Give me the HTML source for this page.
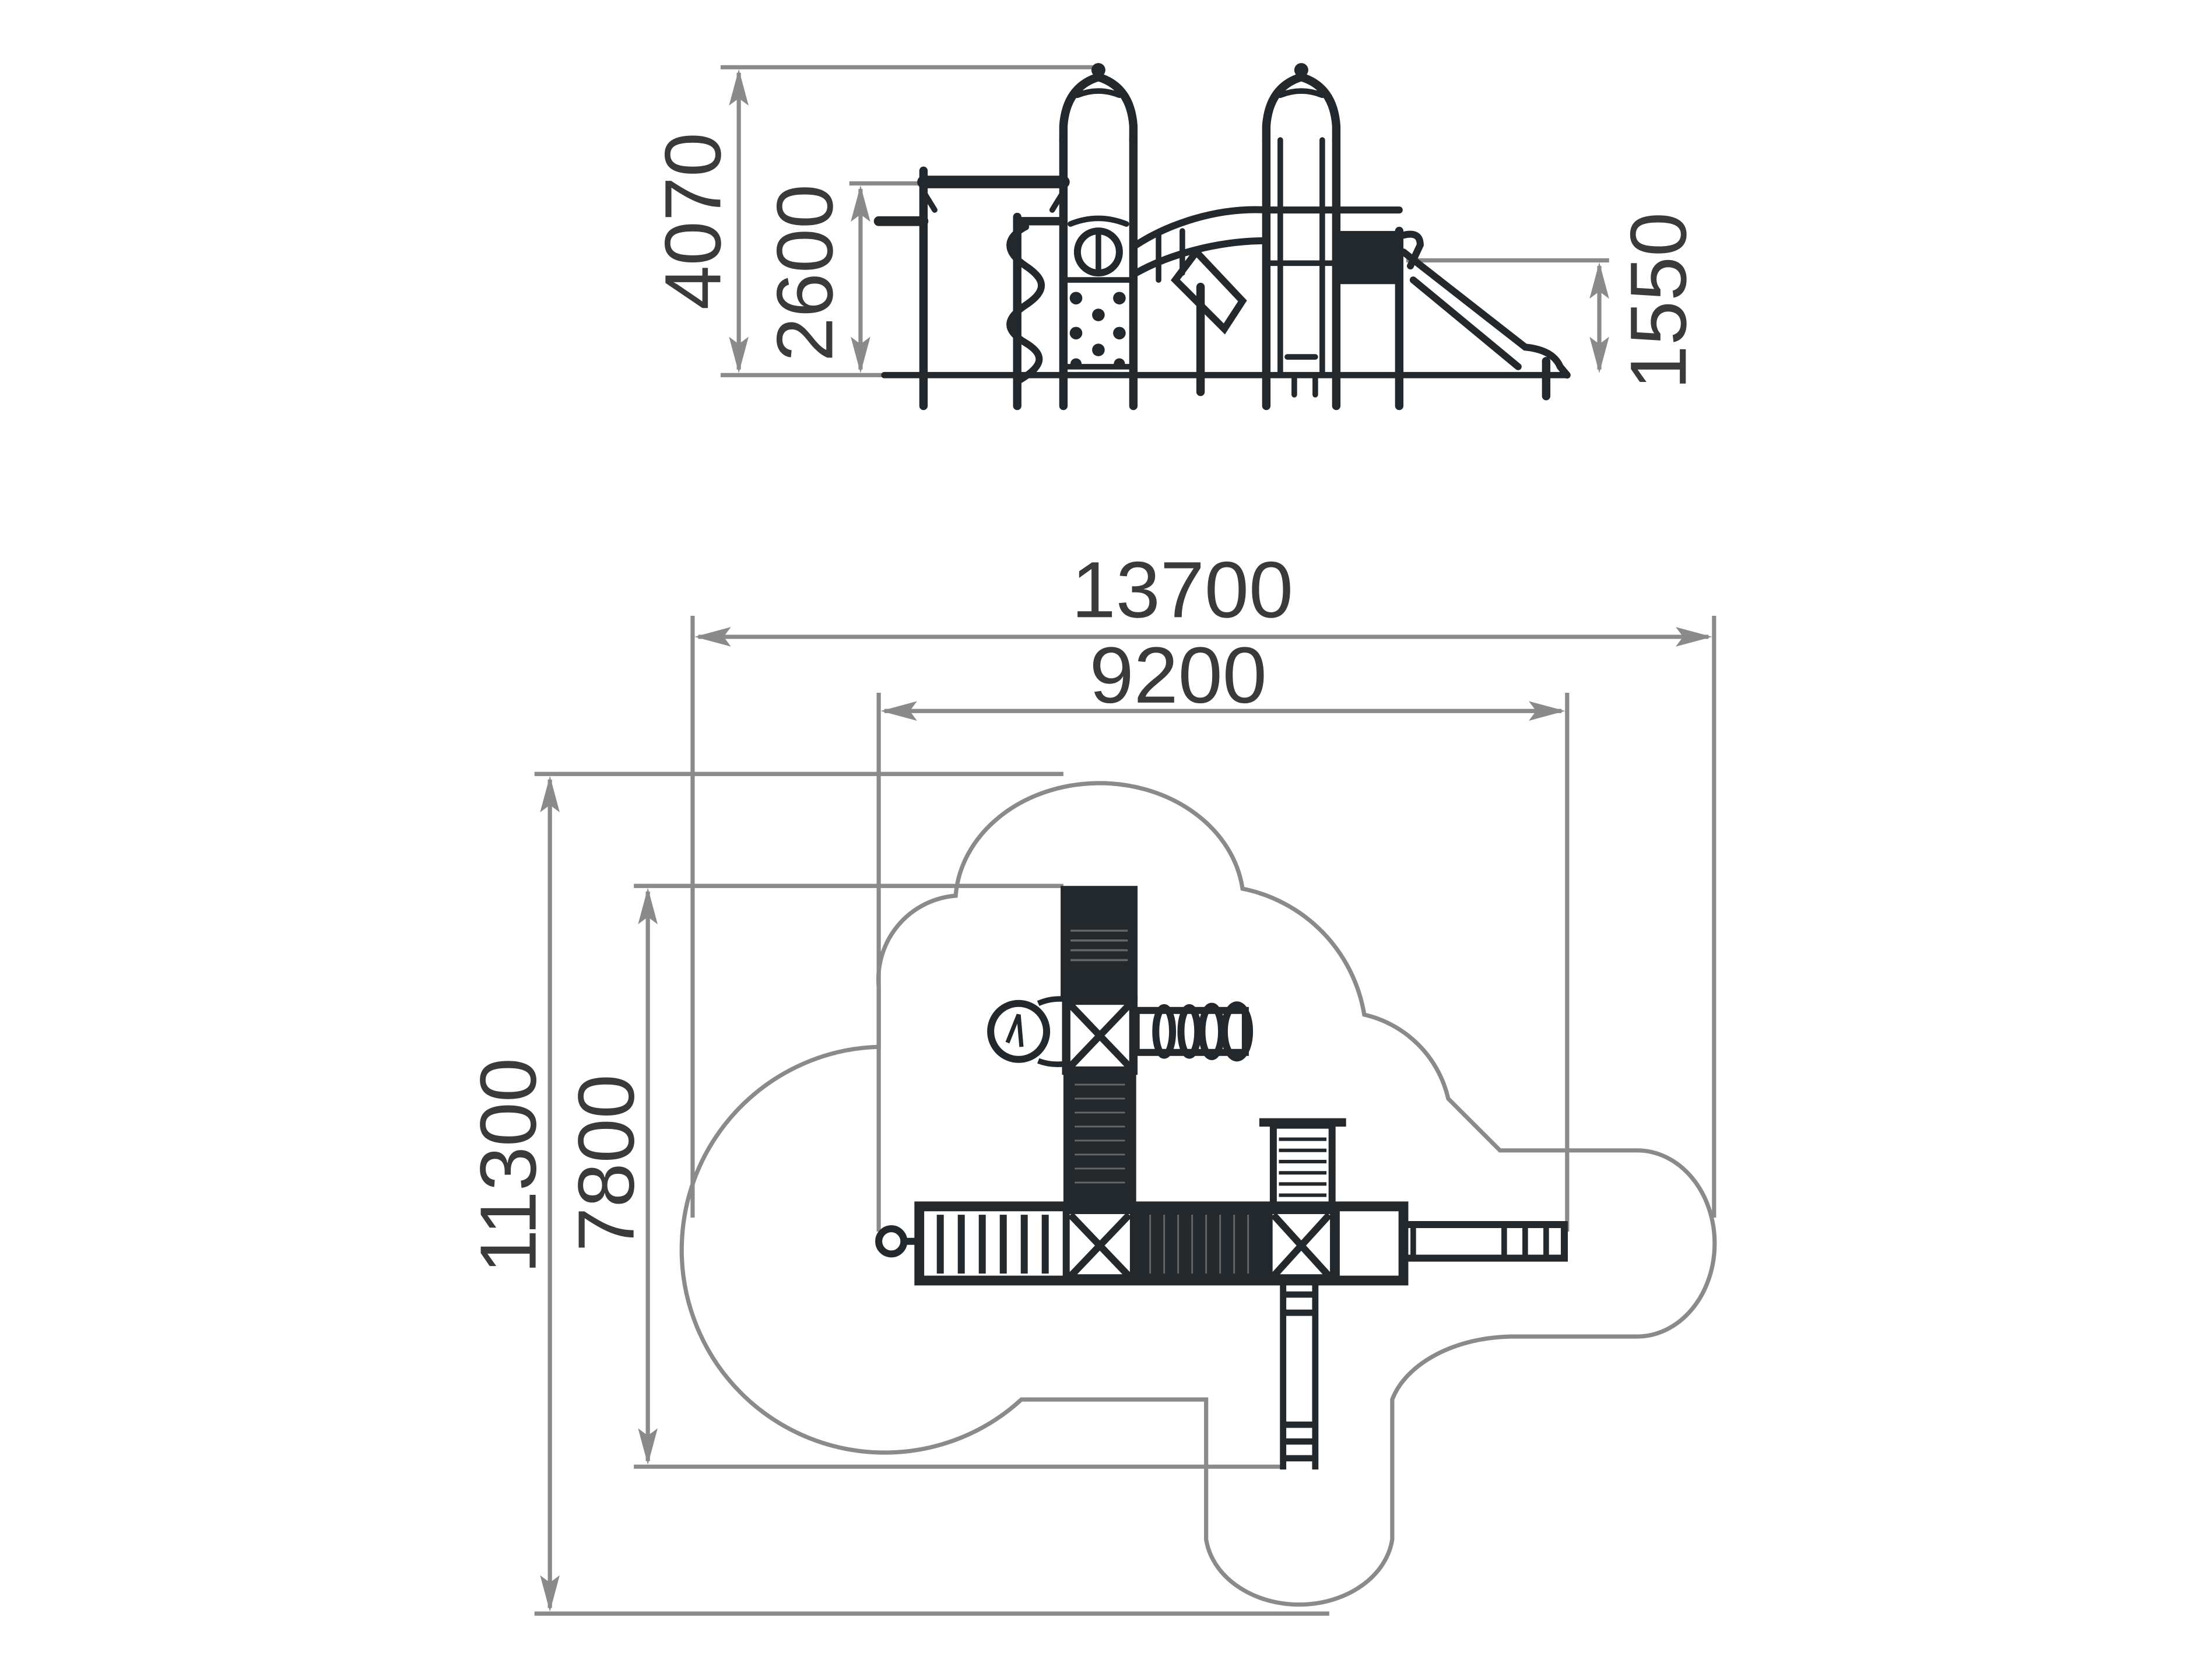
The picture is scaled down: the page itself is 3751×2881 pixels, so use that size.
<!DOCTYPE html>
<html><head><meta charset="utf-8"><style>
html,body{margin:0;padding:0;background:#fff;}
svg{display:block;}
text{font-family:"Liberation Sans",sans-serif;fill:#3a3a3a;font-size:57px;}
</style></head><body>
<svg width="3751" height="2881" viewBox="0 0 1563 1200.4" xmlns="http://www.w3.org/2000/svg">
<defs>
<marker id="arB" viewBox="0 0 10 10" refX="9" refY="5" markerWidth="26" markerHeight="14" markerUnits="userSpaceOnUse" orient="auto-start-reverse" preserveAspectRatio="none"><path d="M0,0 L10,5 L0,10 L2,5 Z" fill="#8a8a8a"/></marker>
</defs>
<rect width="1563" height="1201" fill="#fff"/>

<!-- ===== ELEVATION dims ===== -->
<g stroke="#8a8a8a" stroke-width="3" fill="none">
<line x1="515" y1="48" x2="785" y2="48"/>
<line x1="515" y1="268" x2="632" y2="268"/>
<line x1="607" y1="131" x2="660" y2="131"/>
<line x1="1005" y1="186" x2="1150" y2="186"/>
<line x1="528" y1="52" x2="528" y2="264" marker-start="url(#arB)" marker-end="url(#arB)"/>
<line x1="615" y1="135" x2="615" y2="264" marker-start="url(#arB)" marker-end="url(#arB)"/>
<line x1="1143" y1="190" x2="1143" y2="264" marker-start="url(#arB)" marker-end="url(#arB)"/>
</g>
<text transform="translate(495,158) rotate(-90)" text-anchor="middle" dominant-baseline="central">4070</text>
<text transform="translate(575,195) rotate(-90)" text-anchor="middle" dominant-baseline="central">2600</text>
<text transform="translate(1185,215) rotate(-90)" text-anchor="middle" dominant-baseline="central">1550</text>

<!-- ===== ELEVATION drawing ===== -->
<g stroke="#23282d" stroke-width="6" fill="none" stroke-linecap="round">
<line x1="632" y1="268" x2="1120" y2="268" stroke-width="4.5"/>
<line x1="660" y1="122" x2="660" y2="290"/>
<line x1="727" y1="155" x2="727" y2="290"/>
<line x1="760" y1="100" x2="760" y2="290"/>
<line x1="810" y1="100" x2="810" y2="290"/>
<line x1="858" y1="205" x2="858" y2="280"/>
<line x1="905" y1="100" x2="905" y2="290"/>
<line x1="955" y1="100" x2="955" y2="290"/>
<line x1="1000" y1="165" x2="1000" y2="290"/>
<line x1="1105" y1="258" x2="1105" y2="283"/>
<line x1="915" y1="100" x2="915" y2="268" stroke-width="4"/>
<line x1="945" y1="100" x2="945" y2="268" stroke-width="4"/>
<path d="M760,100 L760,90 Q762,62 785,55 Q808,62 810,90 L810,100"/>
<path d="M770,68 Q785,62 800,68" stroke-width="4"/>
<path d="M905,100 L905,90 Q907,62 930,55 Q953,62 955,90 L955,100"/>
<path d="M915,68 Q930,62 945,68" stroke-width="4"/>
<line x1="660" y1="130" x2="760" y2="130" stroke-width="9"/>
<path d="M660,137 L668,150 M760,137 L752,150" stroke-width="4"/>
<line x1="628" y1="158" x2="660" y2="158" stroke-width="7"/>
<line x1="727" y1="158" x2="760" y2="158" stroke-width="6"/>
<path d="M733,162 C718,170 718,180 733,190 C748,200 748,208 733,218 C718,228 718,236 733,245 C748,254 745,262 728,272" stroke-width="5"/>
<circle cx="785" cy="180" r="15" stroke-width="5"/>
<line x1="785" y1="166" x2="785" y2="194" stroke-width="4"/>
<path d="M765,160 Q785,152 805,160" stroke-width="4"/>
<line x1="760" y1="200" x2="810" y2="200" stroke-width="4"/>
<line x1="760" y1="262" x2="810" y2="262" stroke-width="4"/>
<path d="M812,175 C835,160 870,148 905,150 M812,195 C835,182 870,172 905,172" stroke-width="5"/>
<line x1="905" y1="150" x2="1000" y2="150" stroke-width="5"/>
<line x1="905" y1="188" x2="1000" y2="188" stroke-width="4"/>
<path d="M840,200 L875,235 L888,215 L855,180 Z" stroke-width="5"/>
<path d="M828,168 L828,200 M845,165 L845,195" stroke-width="4"/>
<path d="M1003,180 L1090,248 Q1110,250 1115,262 L1120,268 M1010,200 L1085,262" stroke-width="5"/>
<path d="M1003,168 Q1015,165 1015,175 L1008,190" stroke-width="5"/>
<line x1="920" y1="255" x2="940" y2="255" stroke-width="4"/>
<line x1="925" y1="268" x2="925" y2="282" stroke-width="4"/>
<line x1="940" y1="268" x2="940" y2="282" stroke-width="4"/>
</g>
<rect x="955" y="165" width="45" height="38" fill="#23282d"/>
<g fill="#23282d">
<circle cx="769" cy="213" r="4.5"/><circle cx="800" cy="213" r="4.5"/>
<circle cx="785" cy="225" r="4.5"/><circle cx="769" cy="238" r="4.5"/>
<circle cx="800" cy="238" r="4.5"/><circle cx="785" cy="250" r="4.5"/>
<circle cx="769" cy="260" r="4"/><circle cx="800" cy="260" r="4"/>
<circle cx="785" cy="50" r="5"/><circle cx="930" cy="50" r="5"/>
</g>

<!-- ===== PLAN dims ===== -->
<g stroke="#8a8a8a" stroke-width="3" fill="none">
<line x1="495" y1="440" x2="495" y2="870"/>
<line x1="1225" y1="440" x2="1225" y2="870"/>
<line x1="628" y1="495" x2="628" y2="880"/>
<line x1="1120" y1="495" x2="1120" y2="880"/>
<line x1="382" y1="553" x2="760" y2="553"/>
<line x1="382" y1="1153" x2="950" y2="1153"/>
<line x1="453" y1="633" x2="760" y2="633"/>
<line x1="453" y1="1048" x2="915" y2="1048"/>
<line x1="499" y1="455" x2="1221" y2="455" marker-start="url(#arB)" marker-end="url(#arB)"/>
<line x1="632" y1="508" x2="1116" y2="508" marker-start="url(#arB)" marker-end="url(#arB)"/>
<line x1="393" y1="557" x2="393" y2="1149" marker-start="url(#arB)" marker-end="url(#arB)"/>
<line x1="463" y1="637" x2="463" y2="1044" marker-start="url(#arB)" marker-end="url(#arB)"/>
<path d="M683,640 A103 86 0 0 1 888,635 A110 110 0 0 1 975,725 A80 80 0 0 1 1035,785 L1072,822 L1170,822 A55 66 0 0 1 1170,955 L1080,955 A90 60 0 0 0 995,1000 L995,1100 A67 53 0 0 1 862,1100 L862,1000 L730,1000 A145 145 0 1 1 628,748 L628,705 A60 60 0 0 1 683,640 Z"/>
</g>
<text x="845" y="441" text-anchor="middle">13700</text>
<text x="842" y="502" text-anchor="middle">9200</text>
<text transform="translate(363,833) rotate(-90)" text-anchor="middle" dominant-baseline="central">11300</text>
<text transform="translate(433,831) rotate(-90)" text-anchor="middle" dominant-baseline="central">7800</text>

<!-- ===== PLAN equipment ===== -->
<g stroke="#23282d" fill="none">
<rect x="758" y="633" width="55" height="82" fill="#23282d" stroke="none"/>
<g stroke="#666" stroke-width="1.5"><line x1="765" y1="665" x2="806" y2="665"/><line x1="765" y1="672" x2="806" y2="672"/><line x1="765" y1="679" x2="806" y2="679"/><line x1="765" y1="686" x2="806" y2="686"/></g>
<rect x="760" y="765" width="52" height="97" fill="#23282d" stroke="none"/>
<g stroke="#666" stroke-width="1.2">
<line x1="768" y1="775" x2="804" y2="775"/><line x1="768" y1="785" x2="804" y2="785"/><line x1="768" y1="795" x2="804" y2="795"/><line x1="768" y1="805" x2="804" y2="805"/><line x1="768" y1="815" x2="804" y2="815"/><line x1="768" y1="825" x2="804" y2="825"/><line x1="768" y1="835" x2="804" y2="835"/><line x1="768" y1="845" x2="804" y2="845"/></g>
<rect x="762" y="715" width="48" height="50" stroke-width="6" fill="#fff"/>
<path d="M765,718 L807,762 M807,718 L765,762" stroke-width="5"/>
<circle cx="728" cy="737" r="20" stroke-width="5"/>
<path d="M742,717 A30 22 0 0 1 762,714 M742,758 A30 22 0 0 0 762,760" stroke-width="4"/>
<path d="M720,745 L728,725 L730,748" stroke-width="3"/>
<rect x="812" y="722" width="78" height="30" stroke-width="5"/>
<g stroke-width="5"><ellipse cx="832" cy="737" rx="6" ry="17"/><ellipse cx="850" cy="737" rx="6" ry="17"/><ellipse cx="866" cy="737" rx="7" ry="18"/><ellipse cx="884" cy="737" rx="9" ry="19"/></g>
<rect x="657" y="862" width="346" height="53" fill="#fff" stroke-width="7"/>
<g stroke-width="5"><line x1="672" y1="868" x2="672" y2="910"/><line x1="687" y1="868" x2="687" y2="910"/><line x1="702" y1="868" x2="702" y2="910"/><line x1="717" y1="868" x2="717" y2="910"/><line x1="732" y1="868" x2="732" y2="910"/><line x1="747" y1="868" x2="747" y2="910"/></g>
<circle cx="637" cy="887" r="9" stroke-width="5"/>
<line x1="646" y1="887" x2="657" y2="887" stroke-width="5"/>
<rect x="812" y="862" width="93" height="53" fill="#23282d" stroke="none"/>
<g stroke="#666" stroke-width="1.2"><line x1="822" y1="868" x2="822" y2="910"/><line x1="832" y1="868" x2="832" y2="910"/><line x1="842" y1="868" x2="842" y2="910"/><line x1="852" y1="868" x2="852" y2="910"/><line x1="862" y1="868" x2="862" y2="910"/><line x1="872" y1="868" x2="872" y2="910"/><line x1="882" y1="868" x2="882" y2="910"/><line x1="892" y1="868" x2="892" y2="910"/></g>
<rect x="762" y="865" width="48" height="48" stroke-width="5" fill="#fff"/>
<path d="M765,868 L807,912 M807,868 L765,912" stroke-width="5"/>
<rect x="907" y="865" width="46" height="48" stroke-width="5" fill="#fff"/>
<path d="M910,868 L950,912 M950,868 L910,912" stroke-width="5"/>
<line x1="955" y1="862" x2="955" y2="915" stroke-width="5"/>
<rect x="1003" y="875" width="115" height="24" stroke-width="5"/>
<g stroke-width="4"><line x1="1010" y1="873" x2="1010" y2="901"/><line x1="1075" y1="873" x2="1075" y2="901"/><line x1="1090" y1="873" x2="1090" y2="901"/><line x1="1105" y1="873" x2="1105" y2="901"/></g>
<rect x="910" y="804" width="42" height="58" stroke-width="5"/>
<path d="M900,802 L962,802" stroke-width="6"/>
<g stroke-width="2.5"><line x1="914" y1="814" x2="948" y2="814"/><line x1="914" y1="822" x2="948" y2="822"/><line x1="914" y1="830" x2="948" y2="830"/><line x1="914" y1="838" x2="948" y2="838"/><line x1="914" y1="846" x2="948" y2="846"/><line x1="914" y1="854" x2="948" y2="854"/></g>
<g stroke-width="4.5"><line x1="917" y1="915" x2="917" y2="1050"/><line x1="940" y1="915" x2="940" y2="1050"/>
<line x1="917" y1="925" x2="940" y2="925"/><line x1="917" y1="938" x2="940" y2="938"/><line x1="917" y1="1018" x2="940" y2="1018"/><line x1="917" y1="1030" x2="940" y2="1030"/><line x1="917" y1="1042" x2="940" y2="1042"/></g>
</g>
</svg>
</body></html>
